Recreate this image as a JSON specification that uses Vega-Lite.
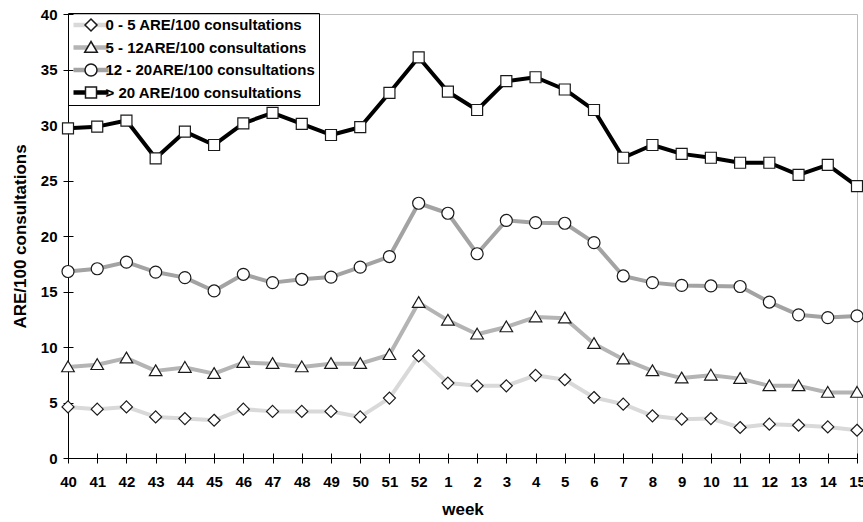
{
  "$schema": "https://vega.github.io/schema/vega-lite/v6.json",
  "width": 789,
  "height": 444,
  "autosize": "none",
  "padding": {"left": 68, "top": 14, "right": 6, "bottom": 64},
  "background": "white",
  "config": {
    "font": "Liberation Sans",
    "view": {"stroke": "#bdbdbd", "strokeWidth": 1},
    "axis": {
      "labelFont": "Liberation Sans",
      "labelFontWeight": "bold",
      "labelFontSize": 15,
      "labelColor": "black",
      "titleFont": "Liberation Sans",
      "titleFontWeight": "bold",
      "titleFontSize": 17,
      "titleColor": "black",
      "domainColor": "black",
      "tickColor": "black",
      "grid": false
    },
    "legend": {
      "labelFont": "Liberation Sans",
      "labelFontWeight": "bold",
      "labelFontSize": 15,
      "labelColor": "black",
      "labelLimit": 400
    }
  },
  "data": {
    "values": [
      {"week": 40, "0 - 5 ARE/100 consultations": 4.6, "5 - 12ARE/100 consultations": 8.2, "12 - 20ARE/100 consultations": 16.8, "> 20 ARE/100 consultations": 29.7},
      {"week": 41, "0 - 5 ARE/100 consultations": 4.4, "5 - 12ARE/100 consultations": 8.4, "12 - 20ARE/100 consultations": 17.05, "> 20 ARE/100 consultations": 29.85},
      {"week": 42, "0 - 5 ARE/100 consultations": 4.6, "5 - 12ARE/100 consultations": 9.0, "12 - 20ARE/100 consultations": 17.65, "> 20 ARE/100 consultations": 30.4},
      {"week": 43, "0 - 5 ARE/100 consultations": 3.7, "5 - 12ARE/100 consultations": 7.85, "12 - 20ARE/100 consultations": 16.75, "> 20 ARE/100 consultations": 27.0},
      {"week": 44, "0 - 5 ARE/100 consultations": 3.55, "5 - 12ARE/100 consultations": 8.15, "12 - 20ARE/100 consultations": 16.25, "> 20 ARE/100 consultations": 29.4},
      {"week": 45, "0 - 5 ARE/100 consultations": 3.4, "5 - 12ARE/100 consultations": 7.6, "12 - 20ARE/100 consultations": 15.05, "> 20 ARE/100 consultations": 28.2},
      {"week": 46, "0 - 5 ARE/100 consultations": 4.4, "5 - 12ARE/100 consultations": 8.6, "12 - 20ARE/100 consultations": 16.55, "> 20 ARE/100 consultations": 30.15},
      {"week": 47, "0 - 5 ARE/100 consultations": 4.2, "5 - 12ARE/100 consultations": 8.5, "12 - 20ARE/100 consultations": 15.8, "> 20 ARE/100 consultations": 31.1},
      {"week": 48, "0 - 5 ARE/100 consultations": 4.2, "5 - 12ARE/100 consultations": 8.2, "12 - 20ARE/100 consultations": 16.1, "> 20 ARE/100 consultations": 30.1},
      {"week": 49, "0 - 5 ARE/100 consultations": 4.2, "5 - 12ARE/100 consultations": 8.5, "12 - 20ARE/100 consultations": 16.3, "> 20 ARE/100 consultations": 29.1},
      {"week": 50, "0 - 5 ARE/100 consultations": 3.7, "5 - 12ARE/100 consultations": 8.5, "12 - 20ARE/100 consultations": 17.2, "> 20 ARE/100 consultations": 29.8},
      {"week": 51, "0 - 5 ARE/100 consultations": 5.4, "5 - 12ARE/100 consultations": 9.3, "12 - 20ARE/100 consultations": 18.15, "> 20 ARE/100 consultations": 32.9},
      {"week": 52, "0 - 5 ARE/100 consultations": 9.2, "5 - 12ARE/100 consultations": 14.0, "12 - 20ARE/100 consultations": 22.95, "> 20 ARE/100 consultations": 36.1},
      {"week": 1, "0 - 5 ARE/100 consultations": 6.75, "5 - 12ARE/100 consultations": 12.4, "12 - 20ARE/100 consultations": 22.05, "> 20 ARE/100 consultations": 33.0},
      {"week": 2, "0 - 5 ARE/100 consultations": 6.5, "5 - 12ARE/100 consultations": 11.15, "12 - 20ARE/100 consultations": 18.4, "> 20 ARE/100 consultations": 31.35},
      {"week": 3, "0 - 5 ARE/100 consultations": 6.5, "5 - 12ARE/100 consultations": 11.8, "12 - 20ARE/100 consultations": 21.4, "> 20 ARE/100 consultations": 33.95},
      {"week": 4, "0 - 5 ARE/100 consultations": 7.45, "5 - 12ARE/100 consultations": 12.7, "12 - 20ARE/100 consultations": 21.2, "> 20 ARE/100 consultations": 34.3},
      {"week": 5, "0 - 5 ARE/100 consultations": 7.05, "5 - 12ARE/100 consultations": 12.6, "12 - 20ARE/100 consultations": 21.15, "> 20 ARE/100 consultations": 33.2},
      {"week": 6, "0 - 5 ARE/100 consultations": 5.45, "5 - 12ARE/100 consultations": 10.3, "12 - 20ARE/100 consultations": 19.4, "> 20 ARE/100 consultations": 31.35},
      {"week": 7, "0 - 5 ARE/100 consultations": 4.85, "5 - 12ARE/100 consultations": 8.9, "12 - 20ARE/100 consultations": 16.4, "> 20 ARE/100 consultations": 27.05},
      {"week": 8, "0 - 5 ARE/100 consultations": 3.8, "5 - 12ARE/100 consultations": 7.85, "12 - 20ARE/100 consultations": 15.8, "> 20 ARE/100 consultations": 28.2},
      {"week": 9, "0 - 5 ARE/100 consultations": 3.5, "5 - 12ARE/100 consultations": 7.2, "12 - 20ARE/100 consultations": 15.55, "> 20 ARE/100 consultations": 27.4},
      {"week": 10, "0 - 5 ARE/100 consultations": 3.55, "5 - 12ARE/100 consultations": 7.45, "12 - 20ARE/100 consultations": 15.5, "> 20 ARE/100 consultations": 27.05},
      {"week": 11, "0 - 5 ARE/100 consultations": 2.75, "5 - 12ARE/100 consultations": 7.15, "12 - 20ARE/100 consultations": 15.45, "> 20 ARE/100 consultations": 26.6},
      {"week": 12, "0 - 5 ARE/100 consultations": 3.05, "5 - 12ARE/100 consultations": 6.5, "12 - 20ARE/100 consultations": 14.05, "> 20 ARE/100 consultations": 26.6},
      {"week": 13, "0 - 5 ARE/100 consultations": 2.95, "5 - 12ARE/100 consultations": 6.5, "12 - 20ARE/100 consultations": 12.9, "> 20 ARE/100 consultations": 25.5},
      {"week": 14, "0 - 5 ARE/100 consultations": 2.8, "5 - 12ARE/100 consultations": 5.9, "12 - 20ARE/100 consultations": 12.65, "> 20 ARE/100 consultations": 26.4},
      {"week": 15, "0 - 5 ARE/100 consultations": 2.5, "5 - 12ARE/100 consultations": 5.9, "12 - 20ARE/100 consultations": 12.8, "> 20 ARE/100 consultations": 24.5}
    ]
  },
  "transform": [
    {"fold": ["0 - 5 ARE/100 consultations", "5 - 12ARE/100 consultations", "12 - 20ARE/100 consultations", "> 20 ARE/100 consultations"], "as": ["series", "rate"]}
  ],
  "resolve": {"axis": {"x": "independent", "y": "independent"}},
  "layer": [
    {
      "mark": {"type": "line", "strokeWidth": 4, "strokeJoin": "round"},
      "encoding": {
        "x": {
          "field": "week", "type": "ordinal",
          "scale": {"type": "point", "padding": 0, "domain": [40, 41, 42, 43, 44, 45, 46, 47, 48, 49, 50, 51, 52, 1, 2, 3, 4, 5, 6, 7, 8, 9, 10, 11, 12, 13, 14, 15]},
          "axis": {"title": "week", "labelAngle": 0, "tickSize": 5, "labelPadding": 11, "titlePadding": 12}
        },
        "y": {
          "field": "rate", "type": "quantitative",
          "scale": {"domain": [0, 40], "nice": false},
          "axis": {"title": "ARE/100 consultations", "values": [0, 5, 10, 15, 20, 25, 30, 35, 40], "tickSize": 5, "labelPadding": 6, "titlePadding": 11}
        },
        "color": {
          "field": "series", "type": "nominal",
          "scale": {
            "domain": ["0 - 5 ARE/100 consultations", "5 - 12ARE/100 consultations", "12 - 20ARE/100 consultations", "> 20 ARE/100 consultations"],
            "range": ["#d9d9d9", "#b4b4b4", "#a3a3a3", "#000000"]
          },
          "legend": {
            "title": null,
            "orient": "none",
            "legendX": 0,
            "legendY": -1,
            "symbolType": "M-3.5,0H3.5",
            "symbolSize": 100,
            "symbolOffset": 11.5,
            "symbolStrokeWidth": 4.5,
            "labelOffset": 7,
            "clipHeight": 16,
            "padding": 4,
            "rowPadding": 6.5,
            "strokeColor": "black",
            "zindex": 1
          }
        }
      }
    },
    {
      "mark": {"type": "point", "filled": true, "fill": "white", "stroke": "#1a1a1a", "strokeWidth": 1.2, "size": 100, "opacity": 1},
      "encoding": {
        "x": {
          "field": "week", "type": "ordinal",
          "sort": [40, 41, 42, 43, 44, 45, 46, 47, 48, 49, 50, 51, 52, 1, 2, 3, 4, 5, 6, 7, 8, 9, 10, 11, 12, 13, 14, 15],
          "axis": {"title": null, "labels": false, "domain": false, "tickSize": -5, "orient": "bottom"}
        },
        "y": {
          "field": "rate", "type": "quantitative",
          "axis": {"title": null, "labels": false, "domain": false, "values": [0, 5, 10, 15, 20, 25, 30, 35, 40], "tickSize": -5, "orient": "left"}
        },
        "shape": {
          "field": "series", "type": "nominal",
          "sort": ["0 - 5 ARE/100 consultations", "5 - 12ARE/100 consultations", "12 - 20ARE/100 consultations", "> 20 ARE/100 consultations"],
          "scale": {
            "range": [
              "M0,-1.2L1.2,0L0,1.2L-1.2,0Z",
              "M0,-1.2L1.26,0.95L-1.26,0.95Z",
              "M1.2,0A1.2,1.2,0,1,1,-1.2,0A1.2,1.2,0,1,1,1.2,0Z",
              "M-1.1,-1.1H1.1V1.1H-1.1Z"
            ]
          },
          "legend": {
            "title": null,
            "orient": "none",
            "legendX": 0,
            "legendY": -1,
            "symbolSize": 100,
            "symbolOffset": 11.5,
            "labelOffset": 7,
            "labelOpacity": 0,
            "clipHeight": 16,
            "padding": 4,
            "rowPadding": 6.5,
            "zindex": 2,
            "encode": {
              "symbols": {
                "fill": {"value": "white"},
                "stroke": {"value": "#1a1a1a"},
                "strokeWidth": {"value": 1.2},
                "fillOpacity": {"value": 1},
                "strokeOpacity": {"value": 1}
              }
            }
          }
        }
      }
    }
  ]
}
